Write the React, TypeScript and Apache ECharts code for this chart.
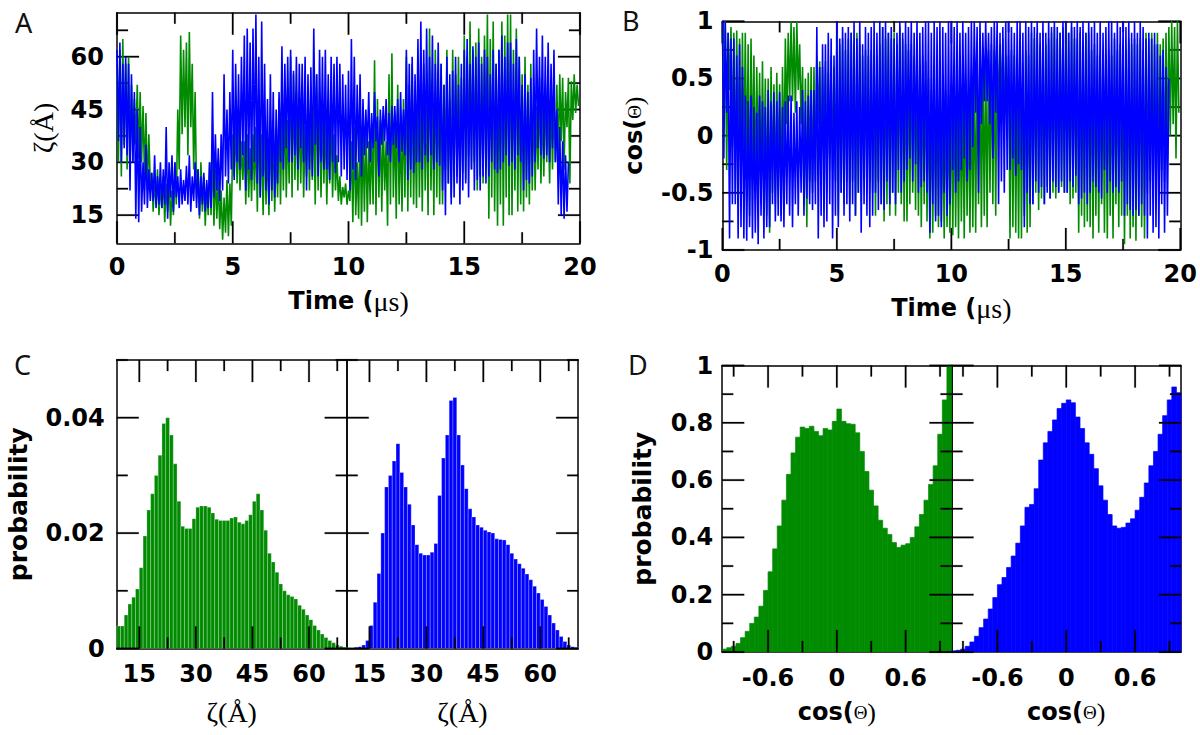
import React, { useEffect, useRef } from 'react';
import * as echarts from 'echarts';

const GREEN = 'rgb(0,139,0)';
const BLUE = 'rgb(0,0,255)';

// ---- Panel A / B time series (sampled every T_STEP microseconds) ----
const T_STEP = 0.0625;

const ZETA_GREEN = [
  55, 30, 62, 26, 65, 35, 58, 28,   60, 33, 52, 30, 48, 35, 52, 31,
  50, 30, 46, 26, 44, 22, 38, 24,   27, 16, 25, 18, 28, 15, 24, 17,
  26, 13, 24, 16, 27, 12, 22, 15,   30, 18, 45, 28, 66, 38, 62, 40,
  64, 32, 67, 40, 58, 28, 50, 20,   28, 14, 30, 16, 26, 12, 24, 15,
  30, 15, 34, 12, 28, 14, 26, 11,   22, 8, 20, 10, 25, 9, 24, 12,
  38, 26, 42, 24, 40, 22, 36, 25,   36, 18, 38, 20, 34, 19, 38, 22,
  40, 16, 45, 20, 38, 15, 42, 18,   36, 15, 42, 19, 40, 16, 35, 20,
  48, 18, 44, 22, 50, 20, 42, 24,   60, 20, 55, 25, 50, 22, 46, 24,
  45, 20, 40, 26, 48, 22, 44, 25,   48, 18, 55, 22, 50, 20, 45, 24,
  44, 18, 40, 24, 45, 20, 38, 22,   32, 19, 26, 18, 23, 20, 24, 18,
  22, 19, 36, 13, 40, 15, 30, 14,   42, 12, 38, 16, 40, 13, 36, 18,
  38, 18, 59, 15, 48, 20, 42, 16,   42, 22, 36, 12, 55, 18, 61, 20,
  44, 14, 52, 18, 40, 16, 48, 20,   60, 16, 52, 20, 58, 18, 45, 17,
  55, 20, 48, 16, 58, 22, 50, 15,   68, 22, 50, 15, 62, 20, 55, 18,
  58, 18, 52, 28, 62, 24, 48, 20,   62, 30, 55, 26, 60, 28, 54, 27,
  66, 25, 60, 32, 70, 28, 62, 30,   64, 22, 68, 26, 60, 24, 66, 28,
  72, 14, 65, 20, 70, 16, 58, 12,   62, 18, 70, 12, 66, 20, 72, 15,
  72, 15, 62, 22, 68, 16, 60, 18,   55, 16, 60, 20, 52, 18, 58, 22,
  50, 22, 46, 28, 54, 24, 48, 26,   52, 30, 46, 24, 50, 28, 48, 30,
  52, 30, 55, 36, 54, 28, 50, 40,   54, 24, 53, 42, 55, 44, 52, 46,
];

const ZETA_BLUE = [
  62, 36, 64, 30, 58, 34, 60, 32,   58, 22, 55, 30, 50, 14, 45, 13,
  40, 16, 30, 18, 35, 17, 28, 19,   27, 19, 32, 17, 26, 18, 30, 17,
  28, 18, 40, 14, 30, 20, 32, 16,   30, 20, 26, 17, 28, 18, 25, 19,
  29, 18, 32, 16, 26, 19, 30, 17,   28, 15, 26, 18, 27, 16, 25, 17,
  30, 17, 50, 20, 38, 22, 34, 19,   38, 22, 55, 26, 45, 24, 50, 28,
  62, 25, 58, 30, 55, 28, 60, 32,   66, 22, 68, 28, 64, 25, 68, 30,
  72, 24, 60, 20, 70, 26, 58, 22,   48, 18, 55, 22, 50, 20, 45, 24,
  50, 30, 63, 28, 58, 34, 60, 30,   62, 30, 56, 32, 60, 28, 58, 34,
  58, 30, 60, 22, 55, 28, 57, 26,   68, 35, 55, 26, 62, 30, 60, 28,
  62, 28, 55, 25, 60, 30, 58, 27,   60, 30, 58, 26, 55, 28, 52, 25,
  56, 22, 65, 28, 60, 25, 52, 30,   55, 26, 48, 32, 45, 34, 50, 30,
  44, 34, 50, 36, 43, 26, 45, 35,   46, 36, 48, 32, 44, 30, 46, 35,
  46, 34, 48, 30, 50, 33, 45, 32,   62, 25, 58, 28, 60, 27, 55, 30,
  65, 30, 70, 28, 62, 32, 68, 30,   60, 32, 66, 28, 58, 30, 64, 29,
  58, 22, 52, 15, 60, 24, 55, 18,   56, 20, 60, 24, 52, 18, 58, 22,
  62, 24, 65, 20, 58, 28, 63, 22,   60, 25, 64, 22, 58, 26, 62, 24,
  60, 26, 55, 30, 62, 28, 58, 27,   62, 28, 66, 30, 60, 32, 64, 29,
  64, 30, 58, 28, 65, 32, 60, 30,   52, 22, 55, 25, 50, 24, 54, 26,
  62, 30, 68, 34, 60, 32, 66, 31,   60, 32, 64, 30, 58, 34, 62, 30,
  45, 18, 40, 15, 36, 14, 32, 16,   30,
];

const COS_GREEN = [
  0.95, 0.2, 1.0, -0.3, 0.9, 0.4, 0.95, -0.1,     0.9, -0.5, 0.92, -0.2, 0.85, -0.4, 0.9, -0.3,
  0.9, -0.4, 0.8, -0.7, 0.85, -0.3, 0.7, -0.5,    0.6, -0.3, 0.55, -0.6, 0.65, -0.4, 0.5, -0.7,
  0.5, -0.85, 0.6, -0.5, 0.45, -0.6, 0.55, -0.4,  0.45, -0.7, 0.6, -0.3, 0.85, 0.1, 0.9, 0.3,
  1.0, 0.3, 0.95, 0.2, 1.0, 0.4, 0.8, 0.1,        0.6, -0.6, 0.5, -0.8, 0.55, -0.4, 0.6, -0.5,
  0.6, -0.4, 0.7, 0.1, 0.65, -0.3, 0.6, 0.0,      0.65, -0.5, 0.55, -0.2, 0.7, -0.3, 0.6, -0.4,
  0.9, -0.7, 0.8, -0.5, 0.85, -0.6, 0.75, -0.4,   0.85, -0.6, 0.9, -0.4, 0.8, -0.7, 0.9, -0.5,
  0.8, -0.5, 0.7, -0.3, 0.75, -0.5, 0.7, -0.4,    0.75, -0.5, 0.65, -0.7, 0.7, -0.4, 0.8, -0.6,
  0.95, -0.75, 0.85, -0.6, 0.9, -0.7, 0.85, -0.5, 0.9, -0.7, 0.8, -0.5, 0.95, -0.6, 0.85, -0.75,
  0.8, -0.75, 0.75, -0.6, 0.8, -0.5, 0.7, -0.65,  0.8, -0.7, 0.6, -0.8, 0.7, -0.6, 0.65, -0.75,
  0.5, -0.9, 0.4, -0.85, 0.45, -0.7, 0.5, -0.8,   0.45, -0.75, 0.3, -0.9, 0.4, -0.8, 0.35, -0.85,
  0.45, -0.87, 0.5, -0.8, 0.4, -0.9, 0.45, -0.75, 0.35, -0.9, 0.5, -0.7, 0.4, -0.85, 0.5, -0.8,
  0.6, -0.85, 0.75, -0.6, 0.7, -0.8, 0.65, -0.7,  0.7, -0.8, 0.75, -0.5, 0.8, -0.6, 0.75, -0.7,
  0.85, 0.2, 0.8, 0.3, 0.85, 0.1, 0.7, 0.25,      0.7, -0.9, 0.75, -0.8, 0.7, -0.85, 0.6, -0.9,
  0.8, -0.9, 0.6, -0.7, 0.75, -0.85, 0.7, -0.8,   0.9, -0.6, 0.85, -0.5, 0.9, -0.65, 0.8, -0.55,
  0.9, -0.6, 0.8, -0.45, 0.85, -0.55, 0.9, -0.5,  0.95, -0.55, 0.85, -0.5, 0.9, -0.45, 0.95, -0.5,
  0.95, -0.5, 0.9, -0.6, 0.95, -0.55, 0.85, -0.5, 0.85, -0.85, 0.9, -0.7, 0.8, -0.8, 0.9, -0.75,
  0.9, -0.8, 0.75, -0.9, 0.8, -0.7, 0.7, -0.85,   0.7, -0.6, 0.75, -0.85, 0.7, -0.9, 0.75, -0.7,
  0.7, -0.9, 0.85, -0.6, 0.75, -0.8, 0.8, -0.7,   0.8, -0.95, 0.75, -0.7, 0.85, -0.9, 0.8, -0.8,
  0.85, -0.92, 0.8, -0.7, 0.85, -0.8, 0.75, -0.9, 0.9, -0.5, 0.85, -0.4, 0.9, -0.45, 0.8, -0.5,
  0.9, -0.5, 0.8, -0.3, 0.85, -0.4, 0.9, -0.2,    0.95, 0.0, 1.0, 0.1, 0.95, -0.2, 1.0, 0.2,
];

const COS_BLUE = [
  1.0, -0.2, 1.0, 0.2, 0.9, -0.9, 0.85, -0.6,     0.85, -0.6, 0.7, -0.9, 0.8, -0.8, 0.6, -0.9,
  0.35, -0.92, 0.3, -0.8, 0.35, -0.9, 0.25, -0.85, 0.2, -0.95, 0.35, -0.7, 0.3, -0.9, 0.25, -0.8,
  0.4, -0.8, 0.3, -0.6, 0.38, -0.75, 0.3, -0.7,   0.38, -0.75, 0.25, -0.8, 0.3, -0.6, 0.35, -0.7,
  0.35, -0.8, 0.2, -0.6, 0.3, -0.7, 0.25, -0.5,   0.4, -0.7, 0.3, -0.55, 0.35, -0.6, 0.4, -0.65,
  0.4, -0.6, 0.95, -0.9, 0.6, -0.7, 0.8, -0.8,    0.8, -0.75, 0.9, -0.6, 0.85, -0.9, 0.7, -0.7,
  1.0, -0.8, 0.85, -0.5, 0.95, -0.7, 0.9, -0.6,   0.95, -0.75, 0.9, -0.6, 1.0, -0.7, 0.85, -0.5,
  1.0, -0.85, 0.8, -0.6, 0.95, -0.7, 0.9, -0.8,   0.95, -0.7, 1.0, -0.5, 0.9, -0.65, 1.0, -0.6,
  0.95, -0.65, 1.0, -0.4, 0.9, -0.6, 0.95, -0.5,  0.85, -0.6, 0.9, -0.3, 1.0, -0.5, 0.9, -0.4,
  1.0, -0.3, 0.95, -0.2, 1.0, -0.4, 0.9, -0.25,   1.0, -0.5, 0.9, -0.45, 0.95, -0.4, 1.0, -0.5,
  1.0, -0.85, 0.9, -0.6, 1.0, -0.75, 0.95, -0.7,  1.0, -0.8, 0.95, -0.5, 0.9, -0.7, 1.0, -0.6,
  1.0, -0.3, 0.95, -0.5, 1.0, -0.4, 0.9, -0.3,    1.0, -0.2, 0.9, -0.4, 0.95, -0.3, 1.0, -0.1,
  1.0, 0.2, 0.95, -0.5, 1.0, 0.1, 0.9, 0.3,       1.0, 0.3, 0.9, 0.1, 0.95, -0.2, 1.0, 0.2,
  1.0, -0.6, 0.9, -0.4, 0.95, -0.5, 1.0, -0.3,    1.0, -0.3, 0.95, -0.2, 0.9, -0.35, 1.0, -0.25,
  1.0, -0.3, 0.9, -0.8, 1.0, -0.5, 0.95, -0.6,    1.0, -0.6, 0.95, -0.4, 1.0, -0.5, 0.9, -0.45,
  1.0, -0.6, 0.9, -0.5, 1.0, -0.55, 0.95, -0.4,   1.0, -0.45, 0.95, -0.5, 0.9, -0.4, 1.0, -0.5,
  1.0, -0.5, 0.9, -0.4, 1.0, -0.45, 0.95, -0.35,  1.0, -0.6, 0.95, -0.55, 1.0, -0.5, 0.9, -0.6,
  1.0, -0.5, 0.95, -0.4, 1.0, -0.45, 0.9, -0.5,   1.0, -0.55, 0.9, -0.3, 0.95, -0.5, 1.0, -0.4,
  1.0, -0.5, 0.9, -0.45, 1.0, -0.5, 0.95, -0.4,   1.0, -0.7, 0.95, -0.6, 1.0, -0.65, 0.9, -0.7,
  1.0, -0.65, 0.9, -0.7, 1.0, -0.6, 0.95, -0.7,   0.85, -0.9, 0.9, -0.7, 0.85, -0.85, 0.9, -0.8,
  0.8, -0.9, 0.7, -0.6, 0.75, -0.85, 0.6, -0.7,   0.5,
];

// ---- Panel C histograms: zeta bins of 1 Å starting at 9 Å ----
const ZETA_BIN_START = 9;
const ZETA_BIN_WIDTH = 1;
const ZETA_HIST_GREEN = [
  0.0039, 0.0039, 0.0058, 0.0077, 0.0089, 0.0103, 0.0140, 0.0195, 0.0240, 0.0268,
  0.0300, 0.0335, 0.0390, 0.0400, 0.0370, 0.0320, 0.0255, 0.0212, 0.0208, 0.0208,
  0.0225, 0.0245, 0.0247, 0.0247, 0.0245, 0.0235, 0.0224, 0.0222, 0.0222, 0.0222,
  0.0226, 0.0228, 0.0219, 0.0216, 0.0222, 0.0232, 0.0255, 0.0268, 0.0240, 0.0205,
  0.0165, 0.0150, 0.0132, 0.0112, 0.0100, 0.0093, 0.0090, 0.0086, 0.0075, 0.0068,
  0.0058, 0.0050, 0.0040, 0.0032, 0.0025, 0.0019, 0.0014, 0.0010, 0.0006, 0.0004,
  0.0002,
];
const ZETA_HIST_BLUE = [
  0.0001, 0.0001, 0.0002, 0.0003, 0.0006, 0.0014, 0.0040, 0.0080, 0.0130, 0.0200,
  0.0280, 0.0300, 0.0325, 0.0355, 0.0305, 0.0280, 0.0250, 0.0214, 0.0180, 0.0165,
  0.0162, 0.0162, 0.0167, 0.0182, 0.0265, 0.0330, 0.0370, 0.0430, 0.0435, 0.0370,
  0.0318, 0.0277, 0.0242, 0.0228, 0.0214, 0.0210, 0.0205, 0.0202, 0.0200, 0.0190,
  0.0189, 0.0188, 0.0180, 0.0165, 0.0155, 0.0147, 0.0139, 0.0129, 0.0119, 0.0108,
  0.0096, 0.0085, 0.0073, 0.0058, 0.0044, 0.0032, 0.0021, 0.0012, 0.0006, 0.0003,
  0.0002,
];

// ---- Panel D histograms: cos bins of 0.04 starting at -1 ----
const COS_BIN_START = -1;
const COS_BIN_WIDTH = 0.04;
const COS_HIST_GREEN = [
  0.010, 0.015, 0.020, 0.030, 0.050, 0.072, 0.100, 0.122, 0.160, 0.215,
  0.280, 0.360, 0.440, 0.530, 0.620, 0.695, 0.750, 0.785, 0.780, 0.788,
  0.770, 0.755, 0.780, 0.775, 0.805, 0.848, 0.805, 0.797, 0.795, 0.765,
  0.700, 0.630, 0.565, 0.510, 0.460, 0.432, 0.410, 0.382, 0.365, 0.373,
  0.378, 0.400, 0.437, 0.480, 0.530, 0.585, 0.650, 0.760, 0.880, 1.200,
];
const COS_HIST_BLUE = [
  0.004, 0.006, 0.010, 0.020, 0.035, 0.055, 0.085, 0.115, 0.150, 0.190,
  0.235, 0.260, 0.295, 0.335, 0.380, 0.440, 0.505, 0.515, 0.570, 0.670,
  0.730, 0.770, 0.810, 0.850, 0.868, 0.880, 0.870, 0.820, 0.780, 0.730,
  0.690, 0.640, 0.580, 0.530, 0.480, 0.440, 0.432, 0.435, 0.450, 0.465,
  0.495, 0.540, 0.590, 0.650, 0.700, 0.760, 0.825, 0.880, 0.925, 0.905,
];

// ---- Tick values ----
const TIME_TICKS = [0, 5, 10, 15, 20];
const TIME_MINOR = [2.5, 7.5, 12.5, 17.5];
const ZETA_TICKS = [15, 30, 45, 60];
const ZETA_MINOR = [22.5, 37.5, 52.5, 67.5];
const COS_TS_TICKS = [-1, -0.5, 0, 0.5, 1];
const COS_TS_MINOR = [-0.75, -0.25, 0.25, 0.75];
const PROB_C_TICKS = [0, 0.02, 0.04];
const PROB_C_MINOR = [0.01, 0.03, 0.05];
const PROB_D_TICKS = [0, 0.2, 0.4, 0.6, 0.8, 1];
const PROB_D_MINOR = [0.1, 0.3, 0.5, 0.7, 0.9];
const COS_H_TICKS = [-0.6, 0, 0.6];
const COS_H_MINOR = [-0.9, -0.3, 0.3, 0.9];

const LABEL_FONT = { fontFamily: 'DejaVu Sans', fontWeight: 'bold', fontSize: 24, color: '#000' };
const SERIF = 'Liberation Serif';

const TIME_NAME = '{a|Time (}{b|\u03bcs)}';
const TIME_RICH = {
  a: { fontFamily: 'DejaVu Sans', fontWeight: 'bold', fontSize: 24, color: '#000' },
  b: { fontFamily: SERIF, fontSize: 28, color: '#000' },
};
const COS_NAME = '{a|cos(}{b|\u0398}{c|)}';
const COS_RICH = {
  a: { fontFamily: 'DejaVu Sans', fontWeight: 'bold', fontSize: 24, color: '#000' },
  b: { fontFamily: SERIF, fontSize: 19, color: '#000' },
  c: { fontFamily: SERIF, fontSize: 26, color: '#000' },
};
const ZETA_NAME = '\u03b6(\u00c5)';
const ZETA_STYLE = { fontFamily: SERIF, fontSize: 28, color: '#000' };

const MAJOR_LEN = 22;
const MINOR_LEN = 11;

type Range = { min: number; max: number; major: number[]; minor: number[] };
type AxisOpts = { labels: boolean; margin?: number; name?: string; nameGap?: number; nameStyle?: any };

function axis(gridIndex: number, position: string, r: Range, o: AxisOpts) {
  return {
    type: 'value',
    gridIndex,
    position,
    min: r.min,
    max: r.max,
    axisLine: { show: true, onZero: false, lineStyle: { color: '#000', width: 1.5 } },
    axisTick: { show: false },
    minorTick: { show: false },
    splitLine: { show: false },
    axisLabel: o.labels
      ? { show: true, customValues: r.major, margin: o.margin, ...LABEL_FONT }
      : { show: false },
    name: o.name || '',
    nameLocation: 'middle',
    nameGap: o.nameGap || 0,
    nameTextStyle: o.nameStyle || {},
  };
}

type Panel = {
  grid: { left: number; top: number; width: number; height: number };
  x: Range;
  y: Range;
  xo: AxisOpts;
  yo: AxisOpts;
};

function histData(start: number, width: number, vals: number[]) {
  return vals.map((p, i) => [start + i * width, start + (i + 1) * width, p]);
}

function histSeries(xi: number, yi: number, color: string, data: number[][], stroke: string) {
  return {
    type: 'custom',
    xAxisIndex: xi,
    yAxisIndex: yi,
    clip: true,
    z: 2,
    silent: true,
    encode: { x: [0, 1], y: 2 },
    data,
    renderItem: (_p: any, api: any) => {
      const a = api.coord([api.value(0), api.value(2)]);
      const b = api.coord([api.value(1), 0]);
      return {
        type: 'rect',
        shape: { x: a[0], y: a[1], width: b[0] - a[0], height: b[1] - a[1] },
        style: { fill: color, stroke, lineWidth: 0.7 },
      };
    },
  };
}

// Inward ticks: each item is [x0, x1, y0, y1] in data units (a short segment
// from the frame inward), drawn with the grid's own scales.
function panelTicks(xi: number, yi: number, p: Panel) {
  const dy = (l: number) => (l * (p.y.max - p.y.min)) / p.grid.height;
  const dx = (l: number) => (l * (p.x.max - p.x.min)) / p.grid.width;
  const data: number[][] = [];
  const xs: [number[], number][] = [[p.x.major, MAJOR_LEN], [p.x.minor, MINOR_LEN]];
  const ys: [number[], number][] = [[p.y.major, MAJOR_LEN], [p.y.minor, MINOR_LEN]];
  xs.forEach(([vals, len]) =>
    vals.forEach((v) => {
      data.push([v, v, p.y.min, p.y.min + dy(len)]);
      data.push([v, v, p.y.max - dy(len), p.y.max]);
    })
  );
  ys.forEach(([vals, len]) =>
    vals.forEach((v) => {
      data.push([p.x.min, p.x.min + dx(len), v, v]);
      data.push([p.x.max - dx(len), p.x.max, v, v]);
    })
  );
  return {
    type: 'custom',
    xAxisIndex: xi,
    yAxisIndex: yi,
    clip: false,
    z: 2,
    silent: true,
    encode: { x: [0, 1], y: [2, 3] },
    data,
    renderItem: (_p: any, api: any) => {
      const a = api.coord([api.value(0), api.value(2)]);
      const b = api.coord([api.value(1), api.value(3)]);
      const w = 1.6;
      const vertical = Math.abs(a[0] - b[0]) < 0.5;
      const shape = vertical
        ? { x: a[0] - w / 2, y: Math.min(a[1], b[1]), width: w, height: Math.abs(a[1] - b[1]) }
        : { x: Math.min(a[0], b[0]), y: a[1] - w / 2, width: Math.abs(a[0] - b[0]), height: w };
      return { type: 'rect', shape, style: { fill: '#000', stroke: '#000', lineWidth: 0.2 } };
    },
  };
}

function buildOption() {
  const zetaR: Range = { min: 7, max: 72.5, major: ZETA_TICKS, minor: ZETA_MINOR };
  const timeR: Range = { min: 0, max: 20, major: TIME_TICKS, minor: TIME_MINOR };
  const cosTsR: Range = { min: -1, max: 1, major: COS_TS_TICKS, minor: COS_TS_MINOR };
  const zetaHR: Range = { min: 9, max: 70, major: ZETA_TICKS, minor: ZETA_MINOR };
  const probCR: Range = { min: 0, max: 0.05, major: PROB_C_TICKS, minor: PROB_C_MINOR };
  const cosHR: Range = { min: -1, max: 1, major: COS_H_TICKS, minor: COS_H_MINOR };
  const probDR: Range = { min: 0, max: 1, major: PROB_D_TICKS, minor: PROB_D_MINOR };

  const panels: Panel[] = [
    {
      grid: { left: 117, top: 12.7, width: 463, height: 230.6 },
      x: timeR, y: zetaR,
      xo: { labels: true, margin: 12, name: TIME_NAME, nameGap: 44, nameStyle: { rich: TIME_RICH } },
      yo: { labels: true, margin: 13, name: ZETA_NAME, nameGap: 60, nameStyle: ZETA_STYLE },
    },
    {
      grid: { left: 722.4, top: 21.3, width: 458.6, height: 228.7 },
      x: timeR, y: cosTsR,
      xo: { labels: true, margin: 12, name: TIME_NAME, nameGap: 44, nameStyle: { rich: TIME_RICH } },
      yo: { labels: true, margin: 9, name: COS_NAME, nameGap: 75, nameStyle: { rich: COS_RICH } },
    },
    {
      grid: { left: 116.7, top: 360, width: 230, height: 288.5 },
      x: zetaHR, y: probCR,
      xo: { labels: true, margin: 13, name: ZETA_NAME, nameGap: 50, nameStyle: ZETA_STYLE },
      yo: { labels: true, margin: 12, name: 'probability', nameGap: 86, nameStyle: { ...LABEL_FONT, fontSize: 25 } },
    },
    {
      grid: { left: 346.7, top: 360, width: 231.5, height: 288.5 },
      x: zetaHR, y: probCR,
      xo: { labels: true, margin: 13, name: ZETA_NAME, nameGap: 50, nameStyle: ZETA_STYLE },
      yo: { labels: false },
    },
    {
      grid: { left: 722.2, top: 365.5, width: 229.3, height: 286.5 },
      x: cosHR, y: probDR,
      xo: { labels: true, margin: 14, name: COS_NAME, nameGap: 47, nameStyle: { rich: COS_RICH } },
      yo: { labels: true, margin: 9, name: 'probability', nameGap: 67, nameStyle: { ...LABEL_FONT, fontSize: 25 } },
    },
    {
      grid: { left: 951.5, top: 365.5, width: 229.5, height: 286.5 },
      x: cosHR, y: probDR,
      xo: { labels: true, margin: 14, name: COS_NAME, nameGap: 47, nameStyle: { rich: COS_RICH } },
      yo: { labels: false },
    },
  ];

  const grids: any[] = [];
  const xAxes: any[] = [];
  const yAxes: any[] = [];
  const idx: { x: number; y: number }[] = [];
  panels.forEach((p, g) => {
    grids.push({ ...p.grid, show: false, containLabel: false });
    idx.push({ x: xAxes.length, y: yAxes.length });
    xAxes.push(axis(g, 'bottom', p.x, p.xo));
    xAxes.push(axis(g, 'top', p.x, { labels: false }));
    yAxes.push(axis(g, 'left', p.y, p.yo));
    yAxes.push(axis(g, 'right', p.y, { labels: false }));
  });

  const lineSeries = (g: number, vals: number[], color: string) => ({
    type: 'line',
    xAxisIndex: idx[g].x,
    yAxisIndex: idx[g].y,
    data: vals.map((v, i) => [i * T_STEP, v]),
    showSymbol: false,
    symbol: 'none',
    clip: true,
    silent: true,
    z: 2,
    lineStyle: { color, width: 1.6 },
  });

  const letter = (t: string, x: number, y: number) => ({
    type: 'text',
    x,
    y,
    z: 10,
    style: { text: t, fontSize: 27, fontFamily: 'Noto Sans', fill: '#111', align: 'left', verticalAlign: 'middle' },
  });

  return {
    animation: false,
    backgroundColor: '#fff',
    grid: grids,
    xAxis: xAxes,
    yAxis: yAxes,
    graphic: [letter('A', 15, 22), letter('B', 622, 20), letter('C', 14, 364), letter('D', 628, 364)],
    series: [
      lineSeries(0, ZETA_GREEN, GREEN),
      lineSeries(0, ZETA_BLUE, BLUE),
      lineSeries(1, COS_GREEN, GREEN),
      lineSeries(1, COS_BLUE, BLUE),
      histSeries(idx[2].x, idx[2].y, GREEN, histData(ZETA_BIN_START, ZETA_BIN_WIDTH, ZETA_HIST_GREEN), 'rgba(255,255,255,0.35)'),
      histSeries(idx[3].x, idx[3].y, BLUE, histData(ZETA_BIN_START, ZETA_BIN_WIDTH, ZETA_HIST_BLUE), 'rgba(255,255,255,0.35)'),
      histSeries(idx[4].x, idx[4].y, GREEN, histData(COS_BIN_START, COS_BIN_WIDTH, COS_HIST_GREEN), GREEN),
      histSeries(idx[5].x, idx[5].y, BLUE, histData(COS_BIN_START, COS_BIN_WIDTH, COS_HIST_BLUE), BLUE),
      ...panels.map((p, g) => panelTicks(idx[g].x, idx[g].y, p)),
    ],
  };
}

export default function App() {
  const ref = useRef<HTMLDivElement>(null);
  useEffect(() => {
    if (!ref.current) return;
    const chart = echarts.init(ref.current, undefined, { renderer: 'svg' });
    chart.setOption(buildOption() as any);
    return () => chart.dispose();
  }, []);
  return (
    <div
      ref={ref}
      style={{ position: 'absolute', left: 0, top: 0, width: 1200, height: 735, background: '#fff' }}
    />
  );
}
